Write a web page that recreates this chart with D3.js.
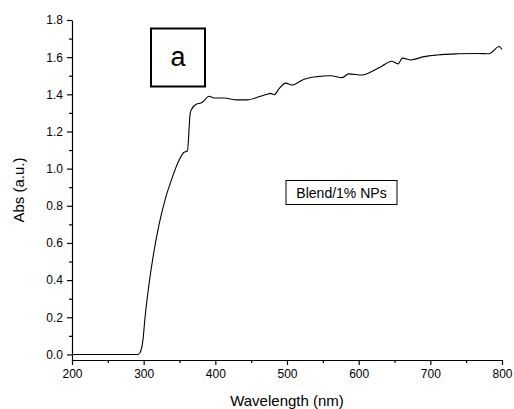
<!DOCTYPE html>
<html lang="en">
    <head>
        <script type="text/javascript" src="https://cdn.jsdelivr.net/npm/d3@7"></script>
        <title>Abs spectrum</title>
        <style type="text/css">
            body { margin: 0; background: #fff; }
            text { font-family: "Liberation Sans", Arial, sans-serif; }
        </style>
    </head>
    <body>
        <script type="text/javascript">
            var w = 514;
            var h = 409;

            // spectrum
            var wavelength = [200, 250, 292, 295, 299, 302, 307, 314, 321, 330, 339, 350, 356, 361, 365, 367, 374, 380, 384, 391, 398, 412, 430, 444, 463, 472, 477, 482, 489, 498, 507, 523, 542, 561, 577, 586, 605, 617, 633, 646, 655, 661, 673, 691, 710, 738, 766, 782, 796, 800];
            var absorbance = [0, 0, 0, 0.01, 0.077, 0.203, 0.365, 0.546, 0.69, 0.834, 0.942, 1.05, 1.087, 1.095, 1.30, 1.32, 1.348, 1.353, 1.365, 1.39, 1.38, 1.38, 1.37, 1.37, 1.39, 1.40, 1.405, 1.398, 1.43, 1.46, 1.45, 1.48, 1.495, 1.50, 1.49, 1.51, 1.504, 1.52, 1.553, 1.578, 1.564, 1.595, 1.585, 1.603, 1.612, 1.618, 1.62, 1.618, 1.657, 1.641];

            var xTicks = [200, 300, 400, 500, 600, 700, 800];
            var xMinor = [250, 350, 450, 550, 650, 750];
            var yTicks = [0.0, 0.2, 0.4, 0.6, 0.8, 1.0, 1.2, 1.4, 1.6, 1.8];
            var yMinor = [0.1, 0.3, 0.5, 0.7, 0.9, 1.1, 1.3, 1.5, 1.7];

            var xScale = d3.scaleLinear().domain([200, 800]).range([72, 502]);
            var yScale = d3.scaleLinear().domain([-0.03, 1.8]).range([360, 20]);

            var svg = d3.select("body")
                        .append("svg")
                        .attr("width", w)
                        .attr("height", h);

            // x axis, majors with labels then minors
            svg.append("g")
                .attr("transform", "translate(0,360)")
                .call(d3.axisBottom(xScale).tickValues(xTicks).tickSize(5).tickSizeOuter(0).tickPadding(4).tickFormat(d3.format("d")));
            svg.append("g")
                .attr("transform", "translate(0,360)")
                .call(d3.axisBottom(xScale).tickValues(xMinor).tickSize(3).tickFormat(""))
                .select(".domain").remove();

            svg.append("g")
                .attr("transform", "translate(72,0)")
                .call(d3.axisLeft(yScale).tickValues(yTicks).tickSize(5).tickSizeOuter(0).tickPadding(4).tickFormat(d3.format(".1f")));
            svg.append("g")
                .attr("transform", "translate(72,0)")
                .call(d3.axisLeft(yScale).tickValues(yMinor).tickSize(3).tickFormat(""))
                .select(".domain").remove();

            svg.selectAll(".tick text")
                .attr("font-size", "12px")
                .attr("font-family", "Liberation Sans, Arial, sans-serif")
                .attr("fill", "#000");
            svg.selectAll(".domain, .tick line").attr("stroke", "#000").attr("stroke-width", 1.2);

            // the curve
            var pts = wavelength.map(function(d, i){ return [d, absorbance[i]]; });
            var line = d3.line()
                .x(function(d){ return xScale(d[0]); })
                .y(function(d){ return yScale(d[1]); })
                .curve(d3.curveMonotoneX);
            svg.append("path")
                .datum(pts)
                .attr("d", line)
                .attr("fill", "none")
                .attr("stroke", "#000")
                .attr("stroke-width", 1.1);

            // axis titles
            svg.append("text")
                .attr("x", 287)
                .attr("y", 406)
                .attr("text-anchor", "middle")
                .attr("font-size", "15px")
                .text("Wavelength (nm)");
            svg.append("text")
                .attr("transform", "translate(24,190) rotate(-90)")
                .attr("text-anchor", "middle")
                .attr("font-size", "15px")
                .text("Abs (a.u.)");

            // panel letter box
            svg.append("rect")
                .attr("x", 151).attr("y", 28.5)
                .attr("width", 54).attr("height", 58)
                .attr("fill", "none").attr("stroke", "#000").attr("stroke-width", 2);
            svg.append("text")
                .attr("x", 178).attr("y", 66)
                .attr("text-anchor", "middle")
                .attr("font-family", "Open Sans, sans-serif")
                .attr("font-size", "27px")
                .text("a");

            // sample label
            svg.append("rect")
                .attr("x", 286).attr("y", 180.5)
                .attr("width", 111).attr("height", 24)
                .attr("fill", "none").attr("stroke", "#000").attr("stroke-width", 1);
            svg.append("text")
                .attr("x", 341.5).attr("y", 198)
                .attr("text-anchor", "middle")
                .attr("font-size", "14px")
                .text("Blend/1% NPs");
        </script>
    </body>
</html>
